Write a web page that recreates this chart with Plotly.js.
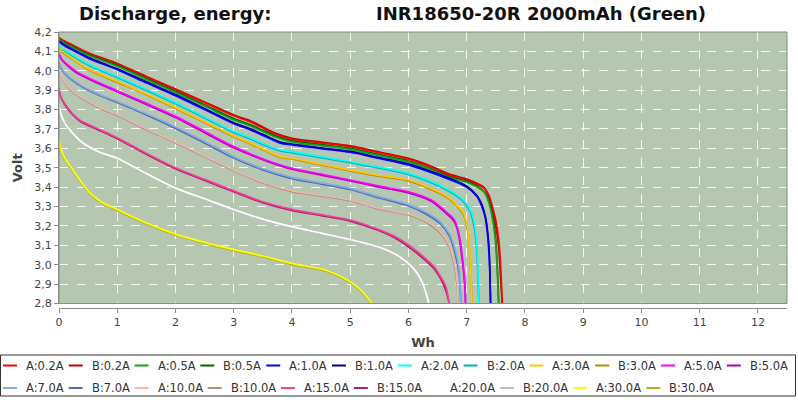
<!DOCTYPE html>
<html>
<head>
<meta charset="utf-8">
<script src="https://cdn.plot.ly/plotly-3.0.1.min.js"></script>
<style>html,body{margin:0;padding:0;background:#fff;}#chart{width:798px;height:402px;}</style>
</head>
<body>
<div id="chart"></div>
<script>
// ---- Data ----
const titleLeft = "Discharge, energy:";
const titleRight = "INR18650-20R 2000mAh (Green)";
const xTitle = "Wh";
const yTitle = "Volt";

const seriesNames = ["A:0.2A","B:0.2A","A:0.5A","B:0.5A","A:1.0A","B:1.0A","A:2.0A","B:2.0A","A:3.0A","B:3.0A","A:5.0A","B:5.0A",
                     "A:7.0A","B:7.0A","A:10.0A","B:10.0A","A:15.0A","B:15.0A","A:20.0A","B:20.0A","A:30.0A","B:30.0A"];
const seriesColors = ["#ff0000","#c00000","#1fa01f","#006400","#0000ff","#000090","#00ffff","#00b0b0","#ffc800","#b08c00","#ff00ff","#b000b0",
                      "#84a8e8","#4f6fa8","#ffb0b0","#b09080","#f0409a","#a82068","#ffffff","#c0c0c0","#ffff00","#b0b020"];

const x02 = [0,0.05,0.2,0.5,1.0,1.5,2.0,2.5,3.0,3.3,3.5,3.7,4.0,4.5,5.0,5.5,6.0,6.35,6.7,7.0,7.2,7.3,7.38,7.45,7.5,7.55,7.58,7.61];
const yA02 = [4.17,4.158,4.135,4.09,4.035,3.968,3.902,3.835,3.768,3.735,3.705,3.675,3.647,3.628,3.609,3.577,3.544,3.508,3.462,3.437,3.41,3.395,3.36,3.29,3.23,3.13,3.01,2.8];
const yB02 = [4.172,4.16,4.138,4.093,4.038,3.971,3.906,3.839,3.772,3.74,3.71,3.68,3.652,3.632,3.613,3.581,3.549,3.513,3.467,3.442,3.416,3.398,3.35,3.27,3.2,3.09,2.95,2.8];

const x05 = [0,0.05,0.2,0.5,1.0,1.5,2.0,2.5,3.0,3.3,3.5,3.7,4.0,4.5,5.0,5.5,6.0,6.35,6.7,7.0,7.15,7.3,7.38,7.44,7.49,7.52,7.55];
const yA05 = [4.163,4.15,4.125,4.08,4.023,3.955,3.888,3.818,3.747,3.714,3.687,3.66,3.633,3.614,3.595,3.562,3.53,3.494,3.45,3.425,3.405,3.374,3.32,3.24,3.13,3.0,2.8];
const yB05 = [4.166,4.153,4.129,4.085,4.028,3.96,3.894,3.824,3.754,3.72,3.693,3.666,3.639,3.619,3.6,3.567,3.535,3.499,3.455,3.43,3.41,3.377,3.33,3.26,3.16,3.03,2.8];

const x10 = [0,0.05,0.2,0.5,1.0,1.5,2.0,2.5,3.0,3.3,3.5,3.8,4.0,4.5,5.0,5.5,6.0,6.35,6.7,7.0,7.18,7.26,7.32,7.36,7.39,7.41];
const yA10 = [4.152,4.138,4.112,4.065,4.006,3.938,3.872,3.8,3.727,3.694,3.667,3.627,3.618,3.599,3.58,3.548,3.515,3.48,3.44,3.40,3.35,3.30,3.24,3.15,3.02,2.8];
const yB10 = [4.155,4.142,4.116,4.07,4.01,3.943,3.877,3.805,3.732,3.699,3.672,3.632,3.622,3.603,3.584,3.552,3.52,3.485,3.447,3.405,3.355,3.31,3.25,3.17,3.05,2.8];

const x20 = [0,0.05,0.2,0.5,1.0,1.5,2.0,2.5,3.0,3.3,3.5,3.8,4.0,4.5,5.0,5.5,6.0,6.3,6.6,6.9,7.05,7.12,7.17,7.19,7.21];
const yA20 = [4.132,4.116,4.088,4.035,3.971,3.905,3.835,3.762,3.687,3.652,3.625,3.592,3.583,3.557,3.531,3.503,3.471,3.44,3.40,3.345,3.29,3.23,3.12,3.0,2.8];
const yB20 = [4.128,4.112,4.083,4.03,3.966,3.9,3.83,3.757,3.682,3.647,3.62,3.587,3.578,3.552,3.526,3.498,3.466,3.435,3.394,3.338,3.28,3.21,3.09,2.96,2.8];

const x30 = [0,0.05,0.2,0.5,1.0,1.5,2.0,2.5,3.0,3.3,3.5,3.8,4.0,4.5,5.0,5.5,6.0,6.45,6.7,6.85,6.95,7.02,7.06,7.09];
const yA30 = [4.12,4.102,4.07,4.01,3.945,3.88,3.81,3.737,3.664,3.625,3.597,3.557,3.549,3.518,3.488,3.46,3.437,3.385,3.345,3.30,3.264,3.18,3.04,2.8];
const yB30 = [4.116,4.098,4.066,4.006,3.941,3.876,3.806,3.733,3.66,3.621,3.593,3.553,3.545,3.514,3.484,3.456,3.432,3.38,3.34,3.295,3.255,3.17,3.03,2.8];

const x50 = [0,0.05,0.15,0.3,0.6,1.0,1.5,2.0,2.5,3.0,3.3,3.6,4.0,4.5,5.0,5.5,6.0,6.4,6.62,6.78,6.85,6.90,6.94,6.97,6.98];
const yA50 = [4.09,4.06,4.03,3.995,3.95,3.897,3.832,3.765,3.687,3.609,3.57,3.535,3.497,3.467,3.437,3.405,3.376,3.333,3.28,3.235,3.18,3.10,3.0,2.9,2.8];
const yB50 = [4.085,4.055,4.025,3.99,3.945,3.892,3.826,3.759,3.681,3.603,3.565,3.53,3.492,3.462,3.432,3.4,3.37,3.326,3.272,3.225,3.17,3.08,2.98,2.88,2.8];

const x70 = [0,0.03,0.1,0.3,0.6,1.0,1.5,2.0,2.5,3.0,3.5,4.0,4.5,5.0,5.5,6.0,6.3,6.55,6.7,6.8,6.87,6.9];
const yA70 = [4.04,4.02,3.99,3.94,3.89,3.842,3.778,3.71,3.635,3.557,3.495,3.45,3.422,3.394,3.35,3.31,3.27,3.22,3.16,3.08,2.976,2.8];
const yB70 = [4.035,4.015,3.985,3.935,3.885,3.836,3.772,3.703,3.628,3.55,3.489,3.444,3.416,3.388,3.344,3.303,3.262,3.21,3.15,3.06,2.95,2.8];

const x100 = [0,0.03,0.1,0.25,0.42,0.7,1.0,1.5,2.0,2.5,3.0,3.5,4.0,4.5,5.0,5.5,6.0,6.3,6.55,6.7,6.78,6.83,6.85];
const yA100 = [3.995,3.975,3.94,3.89,3.857,3.81,3.773,3.70,3.632,3.56,3.488,3.425,3.381,3.357,3.333,3.29,3.26,3.225,3.17,3.10,3.02,2.92,2.8];
const yB100 = [3.99,3.97,3.935,3.885,3.852,3.805,3.768,3.695,3.627,3.555,3.483,3.42,3.376,3.352,3.328,3.285,3.255,3.218,3.16,3.09,3.0,2.9,2.8];

const x150 = [0,0.03,0.1,0.2,0.36,0.6,1.0,1.5,2.0,2.5,3.0,3.5,4.0,4.5,5.0,5.5,5.8,6.1,6.3,6.44,6.55,6.64,6.70];
const yA150 = [3.91,3.87,3.83,3.79,3.745,3.71,3.655,3.575,3.50,3.44,3.381,3.325,3.285,3.258,3.23,3.18,3.14,3.08,3.03,2.99,2.94,2.89,2.8];
const yB150 = [3.905,3.865,3.825,3.785,3.74,3.705,3.65,3.57,3.495,3.435,3.376,3.32,3.28,3.253,3.225,3.175,3.133,3.07,3.02,2.98,2.93,2.87,2.8];

const x200 = [0,0.03,0.1,0.2,0.4,0.7,1.0,1.5,2.0,2.5,3.0,3.5,4.0,4.5,5.0,5.5,5.8,6.1,6.25,6.35];
const yA200 = [3.83,3.78,3.73,3.69,3.63,3.58,3.549,3.47,3.395,3.34,3.285,3.235,3.196,3.163,3.13,3.09,3.05,2.976,2.90,2.8];
const yB200 = [3.825,3.775,3.725,3.685,3.625,3.575,3.544,3.465,3.39,3.335,3.28,3.23,3.19,3.157,3.124,3.083,3.04,2.96,2.88,2.8];

const x300 = [0,0.03,0.1,0.19,0.35,0.53,0.75,1.0,1.5,2.0,2.5,3.0,3.5,4.0,4.6,5.0,5.2,5.3,5.38];
const yA300 = [3.65,3.6,3.55,3.51,3.44,3.37,3.32,3.285,3.215,3.158,3.115,3.078,3.045,3.007,2.97,2.912,2.864,2.83,2.8];
const yB300 = [3.645,3.595,3.545,3.505,3.435,3.365,3.315,3.28,3.21,3.153,3.11,3.073,3.04,3.002,2.965,2.907,2.858,2.825,2.8];

const xTicks = [0,1,2,3,4,5,6,7,8,9,10,11,12];
const yTicks = [2.8,2.9,3.0,3.1,3.2,3.3,3.4,3.5,3.6,3.7,3.8,3.9,4.0,4.1,4.2];

// ---- series table (pairs A/B share x) ----
const seriesX = [x02,x02,x05,x05,x10,x10,x20,x20,x30,x30,x50,x50,x70,x70,x100,x100,x150,x150,x200,x200,x300,x300];
const seriesY = [yA02,yB02,yA05,yB05,yA10,yB10,yA20,yB20,yA30,yB30,yA50,yB50,yA70,yB70,yA100,yB100,yA150,yB150,yA200,yB200,yA300,yB300];

// ---- geometry ----
const W = 798, H = 402, ML = 59, MR = 11, MT = 32, MB = 94;
const PW = W - ML - MR, PH = H - MT - MB;
const px2x = px => (px - ML) / PW;
const py2y = py => (H - MB - py) / PH;

// draw B under A for each pair
const traces = [];
for (let p = 0; p < seriesNames.length; p += 2) {
  [p + 1, p].forEach(i => {
    const isThin = seriesNames[i].indexOf("10.0A") >= 0;
    traces.push({
      type: "scatter", mode: "lines", name: seriesNames[i],
      x: seriesX[i], y: seriesY[i],
      line: { color: seriesColors[i], width: isThin ? 1.2 : 1.7, shape: "spline", smoothing: 0.8 },
      showlegend: false, hoverinfo: "skip"
    });
  });
}

// ---- custom legend, laid out like the original (two rows) ----
const shapes = [];
const annotations = [];
const legendFontSize = 11.5;
const ctx = document.createElement("canvas").getContext("2d");
ctx.font = legendFontSize + 'px "DejaVu Sans"';
const textW = s => { const w = ctx.measureText(s).width; return w > 0 ? w : s.length * 6.4; };
const legTop = 355, legBottom = 396, rowY = [365.5, 388];
let lx = 3, row = 0;
seriesNames.forEach((nm, i) => {
  const itemW = 14 + 7 + textW(nm) + 7;
  if (lx + itemW > 798 && row === 0) { row = 1; lx = 3; }
  const yy = py2y(rowY[row]);
  shapes.push({ type: "line", xref: "paper", yref: "paper", x0: px2x(lx), x1: px2x(lx + 14), y0: yy, y1: yy,
                line: { color: seriesColors[i], width: 2 } });
  annotations.push({ xref: "paper", yref: "paper", x: px2x(lx + 21), y: yy, xanchor: "left", yanchor: "middle",
                     text: nm, showarrow: false, font: { family: "DejaVu Sans", size: legendFontSize, color: "#333" } });
  lx += itemW;
});
shapes.push({ type: "rect", xref: "paper", yref: "paper", x0: px2x(0.5), x1: px2x(795.5), y0: py2y(legBottom), y1: py2y(legTop),
              line: { color: "#333", width: 1 }, fillcolor: "rgba(0,0,0,0)" });
// plot border
shapes.push({ type: "rect", xref: "paper", yref: "y domain", x0: 0, x1: 1, y0: 0, y1: 1,
              line: { color: "#8a8a8a", width: 1 }, fillcolor: "rgba(0,0,0,0)", layer: "above" });

// titles
annotations.push({ xref: "paper", yref: "paper", x: px2x(77), y: py2y(14), xanchor: "left", yanchor: "middle", showarrow: false,
                   text: titleLeft, font: { family: "DejaVu Sans", size: 18, weight: "bold", color: "#111" } });
annotations.push({ xref: "paper", yref: "paper", x: px2x(374), y: py2y(14), xanchor: "left", yanchor: "middle", showarrow: false,
                   text: titleRight, font: { family: "DejaVu Sans", size: 18, weight: "bold", color: "#111" } });

const layout = {
  width: W, height: H,
  margin: { l: ML, r: MR, t: MT, b: MB, pad: 0 },
  paper_bgcolor: "#ffffff",
  plot_bgcolor: "#b5c7b1",
  separators: ",.",
  showlegend: false,
  font: { family: "DejaVu Sans", size: 11, color: "#444" },
  xaxis: {
    range: [0, 12.5], tickvals: xTicks, ticktext: xTicks.map(String),
    anchor: "free", position: 0,
    showgrid: true, gridcolor: "rgba(255,255,255,0.85)", griddash: "dash", gridwidth: 1,
    zeroline: false, showline: true, linecolor: "#8a8a8a", linewidth: 1,
    ticks: "outside", ticklen: 4, tickcolor: "#8a8a8a",
    tickfont: { family: "DejaVu Sans", size: 11, color: "#444" },
    title: { text: xTitle, font: { family: "DejaVu Sans", size: 13, weight: "bold", color: "#444" }, standoff: 9 }
  },
  yaxis: {
    range: [2.8, 4.2], domain: [4.5 / PH, 1], tickvals: yTicks, tickformat: ".1f",
    showgrid: true, gridcolor: "rgba(255,255,255,0.85)", griddash: "dash", gridwidth: 1,
    zeroline: false, showline: true, linecolor: "#8a8a8a", linewidth: 1,
    ticks: "outside", ticklen: 4, tickcolor: "#8a8a8a",
    tickfont: { family: "DejaVu Sans", size: 11, color: "#444" },
    title: { text: yTitle, font: { family: "DejaVu Sans", size: 13, weight: "bold", color: "#444" }, standoff: 8 }
  },
  shapes: shapes,
  annotations: annotations
};

Plotly.newPlot("chart", traces, layout, { displayModeBar: false, staticPlot: true });
</script>
</body>
</html>
